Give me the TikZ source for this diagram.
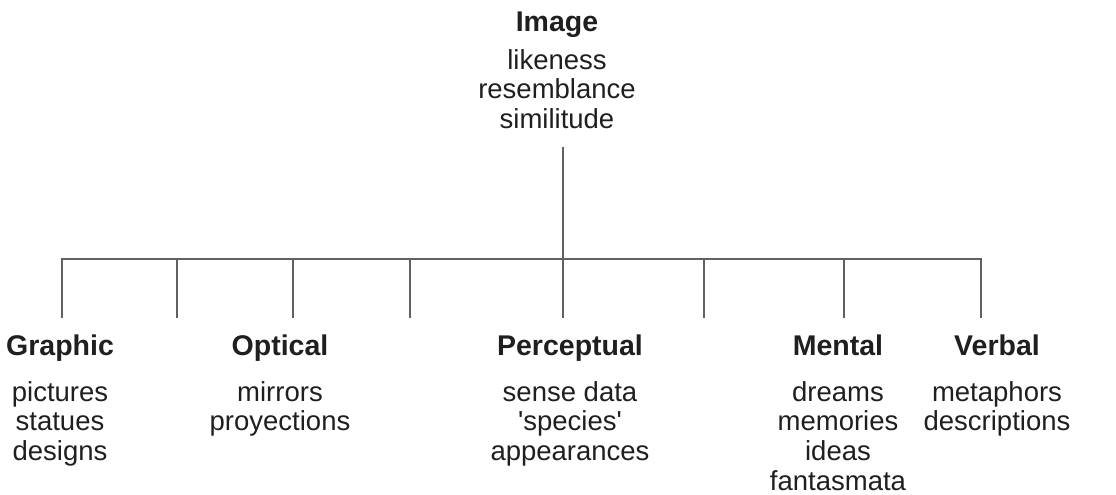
\documentclass[tikz,border=0pt]{standalone}
\usepackage{fontspec}
\setmainfont{Liberation Sans}
\usetikzlibrary{positioning}
\tikzset{
  head/.style={font=\fontsize{28.5}{30}\selectfont\bfseries, inner sep=0pt,
    text height=20pt, text depth=6pt, anchor=base, text=black!88},
  items/.style={font=\fontsize{27.5}{29.6}\selectfont, inner sep=0pt,
    align=center, text=black!88},
  branch/.style={draw=black!62, line width=1.4pt},
}
\begin{document}
\begin{tikzpicture}[x=1pt, y=-1pt]
    \useasboundingbox (0,0) rectangle (1116,495);

    % root
    \node[head] (image) at (557,32) {Image};
    \node[items, below=11pt of image] (imagelist) {likeness\\resemblance\\similitude};

    % kinds
    \node[head] (graphic) at (60,355) {Graphic};
    \node[head] (optical) at (280,355) {Optical};
    \node[head] (perceptual) at (570,355) {Perceptual};
    \node[head] (mental) at (838,355) {Mental};
    \node[head] (verbal) at (997,355) {Verbal};

    \node[items, below=20pt of graphic] (graphiclist) {pictures\\statues\\designs};
    \node[items, below=20pt of optical] (opticallist) {mirrors\\proyections};
    \node[items, below=20pt of perceptual] (perceptuallist)
        {sense data\\\textquotesingle species\textquotesingle\\appearances};
    \node[items, below=20pt of mental] (mentallist) {dreams\\memories\\ideas\\fantasmata};
    \node[items, below=20pt of verbal] (verballist) {metaphors\\descriptions};

    % tree lines
    \coordinate (stem) at (563,147);
    \coordinate (barL) at (62,259);
    \coordinate (barR) at (981,259);
    \draw[branch] (stem) -- (stem |- barL);
    \draw[branch] ([yshift=-59pt]barL) -- (barL) -- (barR) -- ([yshift=-59pt]barR);
    \foreach \x/\n in {177/a, 293/b, 410/c, 563/d, 704/e, 844/f} {
        \coordinate (tick\n) at (\x,259);
        \draw[branch] (tick\n) -- ([yshift=-59pt]tick\n);
    }
\end{tikzpicture}
\end{document}
